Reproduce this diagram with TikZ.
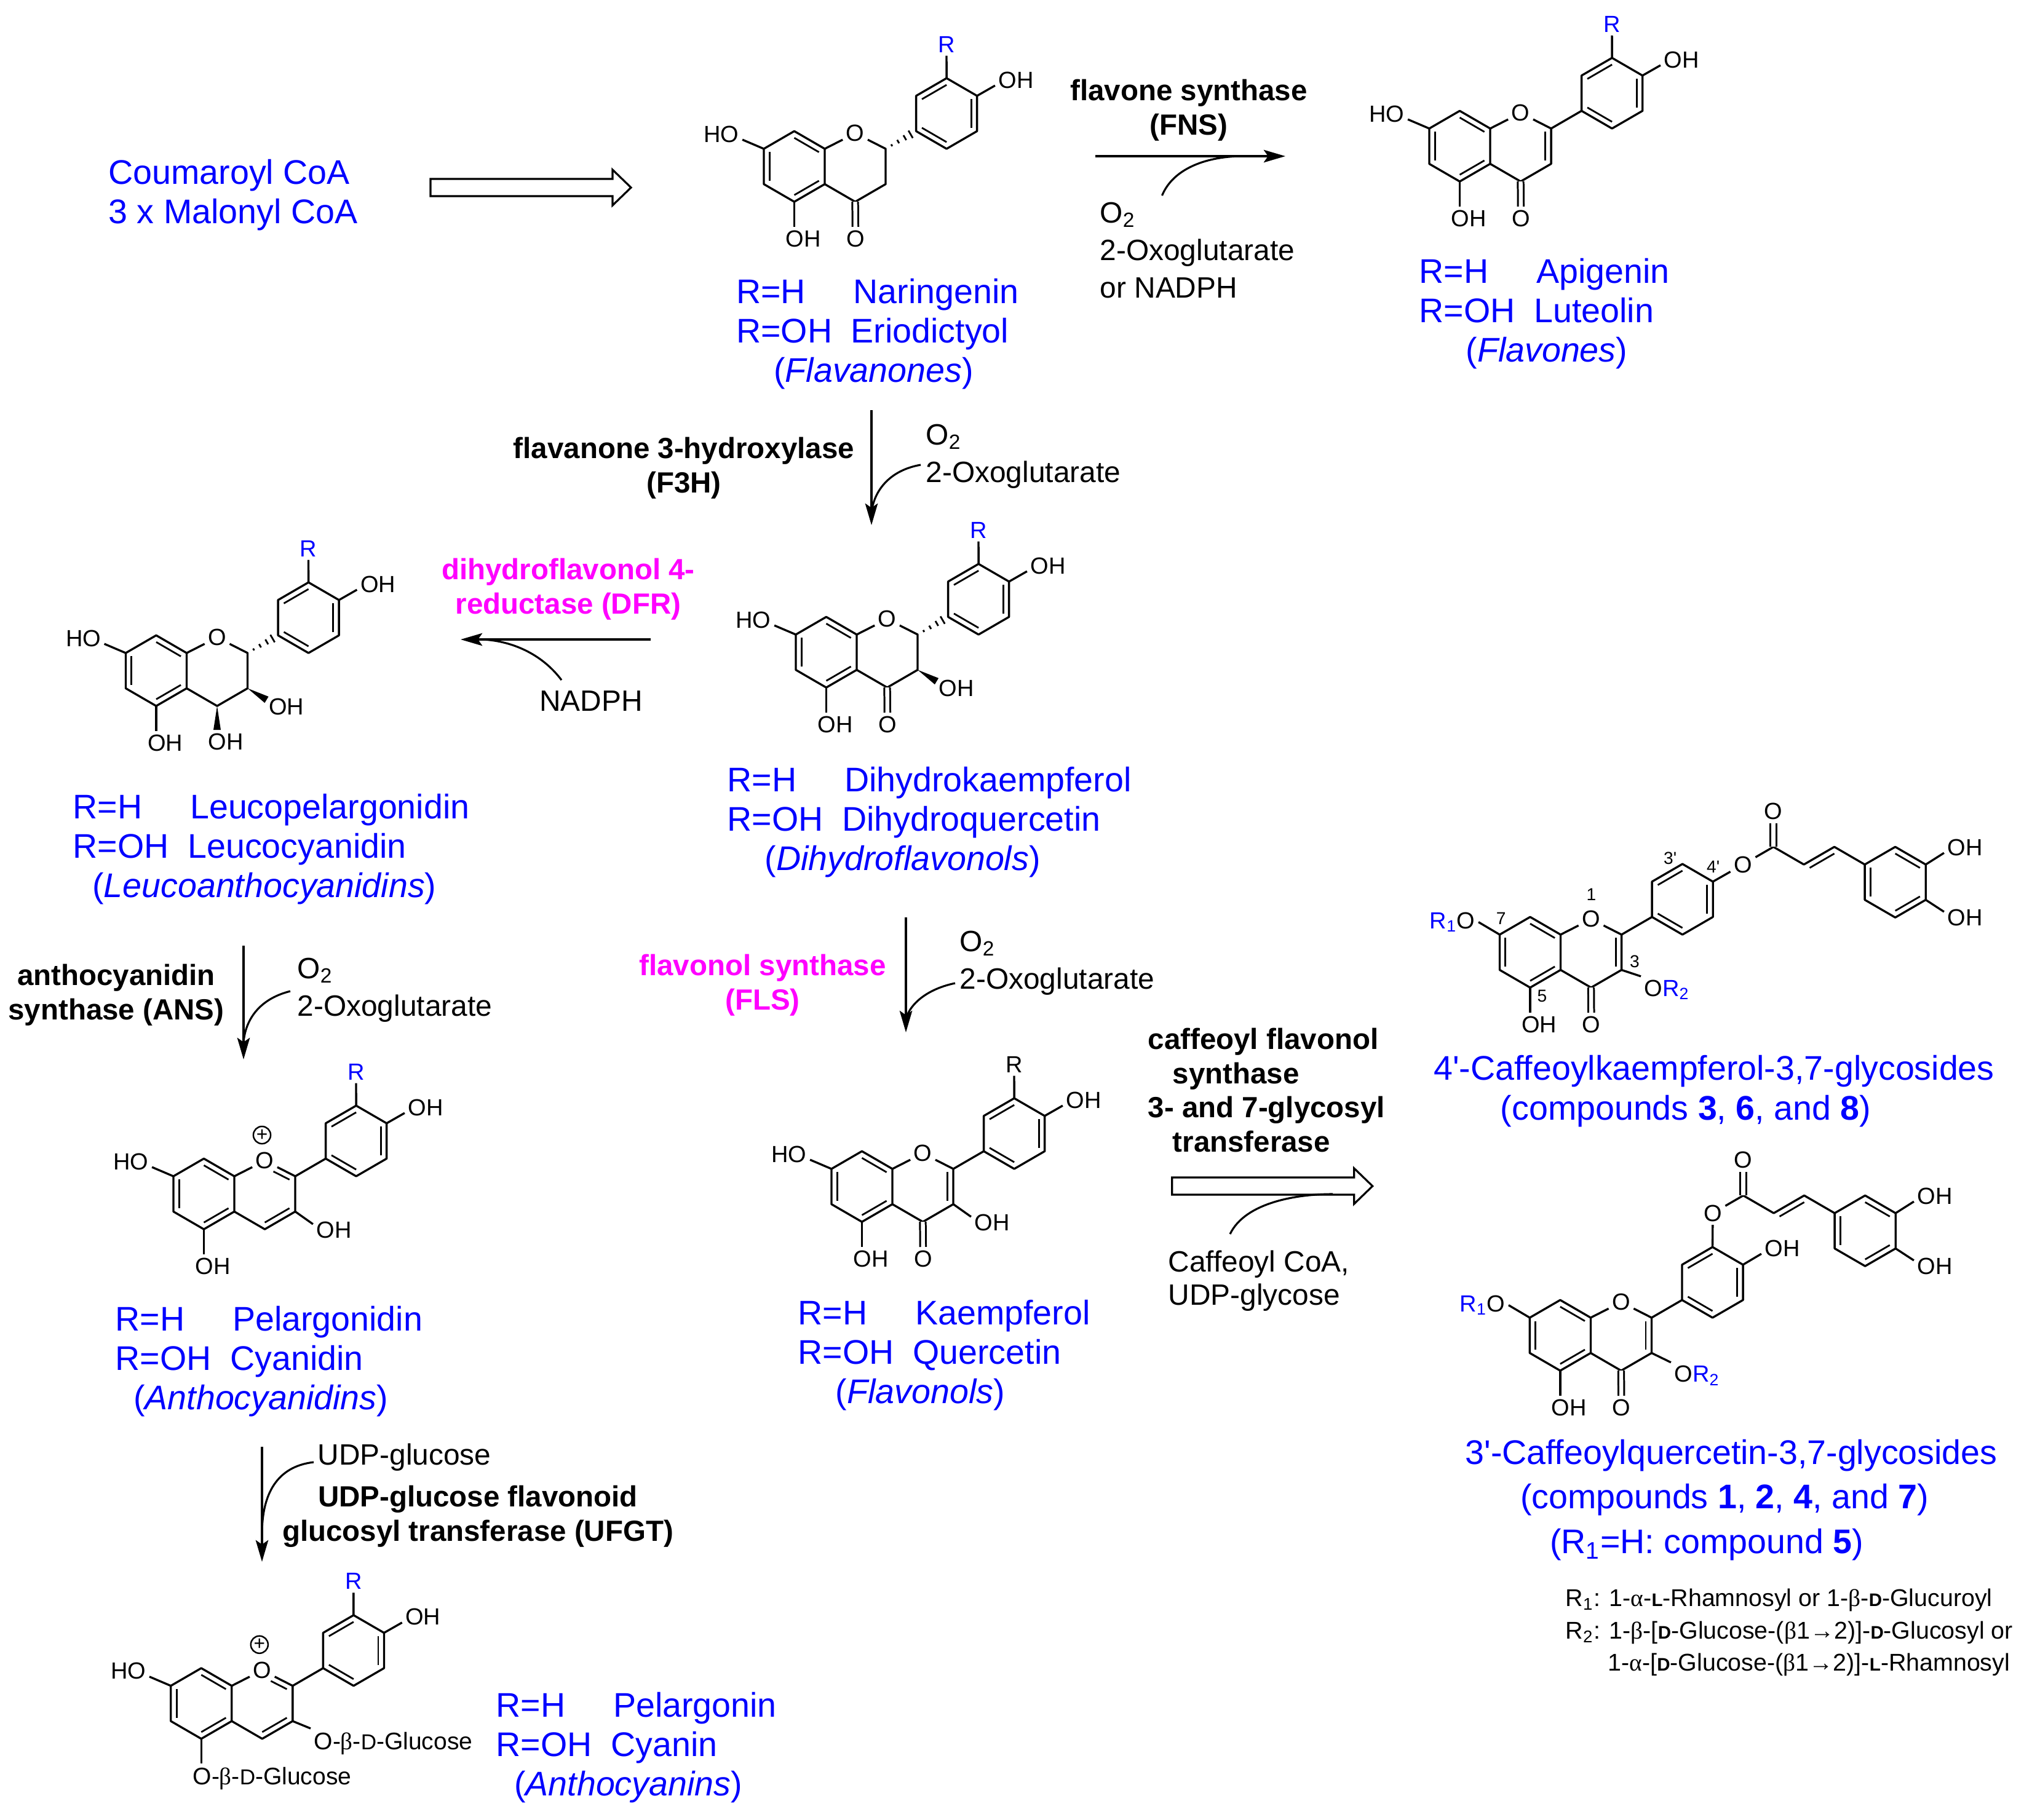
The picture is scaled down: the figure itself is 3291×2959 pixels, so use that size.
\documentclass[tikz,border=0pt]{standalone}
\usepackage{fontspec}
\setmainfont{Liberation Sans}[Ligatures=TeXOff]
\newfontfamily\gkfont{Liberation Serif}
\usetikzlibrary{calc,arrows.meta}
\definecolor{enzpink}{RGB}{255,0,255}
\definecolor{namblue}{RGB}{0,0,255}

\newcommand{\gk}[1]{{\gkfont #1}}
\newcommand{\sm}[1]{{\fontsize{8.4}{9}\selectfont\bfseries #1}}
\newcommand{\smd}[1]{{\fontsize{10}{9}\selectfont #1}}
\newcommand{\rpair}[4]{\makebox[54.2pt][l]{R=H}#1\\\makebox[53.1pt][l]{R=OH}#2\\\hspace*{#4}(\textit{#3})}
\newcommand{\dbl}[3]{\draw[innerbond] ($(#1)!.19!(#3)$) -- ($(#2)!.19!(#3)$);}
\newcommand{\hashbond}[2]{\foreach \t/\l in {.2/.5pt,.41/.9pt,.63/1.3pt,.82/2pt}
    \draw[line width=.8pt] ($(#1)!\t!(#2)!\l!90:(#2)$) -- ($(#1)!\t!(#2)!\l!-90:(#2)$);}
\newcommand{\wedgebond}[2]{\fill (#1) -- ($(#2)!1.7pt!90:(#1)$) -- ($(#2)!1.7pt!-90:(#1)$) -- cycle;}

\newcommand{\coredraw}{
    \begin{scope}[lattice]
    \foreach \n/\i/\j in {c8a/0/0,c4a/0/2,c5/-1/3,c6/-2/2,c7/-2/0,c8/-1/-1,c2/2/0,c3/2/2,c4/1/3,
        a1/3/-1,a2/3/-3,a3/4/-4,a4/5/-3,a5/5/-1,a6/4/0,ca/-1/1,cb/1/1,cc/4/-2}
        \coordinate (-\n) at (\i,\j);
    \node[atom,yshift=-1pt] (-o) at (1,-1) {O};
    \end{scope}
    \draw[bond] (-c7) -- (-c8) -- (-c8a) -- (-c4a) -- (-c5) -- (-c6) -- cycle;
    \draw[bond] (-c8a) -- (-o) -- (-c2) -- (-c3) -- (-c4) -- (-c4a);
    \draw[bond] (-a1) -- (-a2) -- (-a3) -- (-a4) -- (-a5) -- (-a6) -- cycle;
    \dbl{-c7}{-c6}{-ca} \dbl{-c8}{-c8a}{-ca} \dbl{-c4a}{-c5}{-ca}
    \dbl{-a2}{-a3}{-cc} \dbl{-a4}{-a5}{-cc} \dbl{-a6}{-a1}{-cc}
}
\newcommand{\subsdraw}{
    \node[atom] (-ho) at (-168,-24) {HO};
    \node[atom,rtext] (-r) at (198,-170) {R};
    \node[atom] (-oh) at (311,-112) {OH};
    \draw[bond] (-c7) -- (-ho.-15);
    \draw[bond] (-a3) -- (-r);
    \draw[bond] (-a4) -- (-oh.195);
}
\newcommand{\ohfive}{
    \node[atom] (-oh5) at (-35,146) {OH};
    \draw[bond] (-c5) -- (-c5 |- -oh5.north);
}
\newcommand{\oxo}{
    \node[atom] (-oc) at (50,146) {O};
    \draw[dblbond] (-c4) -- (-oc);
}
\newcommand{\cthree}{
    \coordinate (-w3) at (130,76);
    \wedgebond{-c3}{-w3}
    \node[atom] (-oh3) at (162,87) {OH};
}
\newcommand{\cfour}{
    \coordinate (-w4) at (49.5,125);
    \wedgebond{-c4}{-w4}
    \node[atom] (-oh4) at (63.5,144) {OH};
}
\newcommand{\enedraw}{
    \draw[bond] (-c2) -- (-a1);
    \dbl{-c2}{-c3}{-cb}
}
\newcommand{\cationdraw}{
    \draw[bond] (-c2) -- (-a1);
    \draw[innerbond] ($(-o)!.35!(-c2)!.19!(-cb)$) -- ($(-c2)!.19!(-cb)$);
    \dbl{-c3}{-c4}{-cb}
    \node[plusmark] (-plus) at (45,-67) {+};
}

\tikzset{
    bond/.style={line width=.95pt,line join=round},
    innerbond/.style={line width=.8pt},
    dblbond/.style={line width=.85pt,double,double distance=1.8pt},
    lattice/.style={x=.495cm,y=-.287cm},
    atom/.style={font=\fontsize{10.8}{13}\selectfont,inner sep=.6pt,outer sep=1pt},
    glycoside/.style={atom,font=\fontsize{11.1}{13}\selectfont},
    rtext/.style={text=namblue},
    rtwodrop/.style={},
    locant/.style={font=\fontsize{8}{10}\selectfont,inner sep=0pt},
    plusmark/.style={draw,circle,line width=.7pt,inner sep=0pt,minimum size=8pt,font=\fontsize{9}{9}\selectfont},
    compound/.style={text=namblue,inner sep=0pt,align=left,font=\fontsize{15.8}{18.2}\selectfont},
    enzyme/.style={inner sep=0pt,align=center,font=\bfseries\fontsize{13.5}{15.8}\selectfont},
    cofactor/.style={inner sep=0pt,align=left,font=\fontsize{13.6}{17.4}\selectfont},
    rxn/.style={line width=1pt,-{Stealth[length=10pt,width=5.8pt,inset=2pt]}},
    joinline/.style={line width=.9pt},
    pics/flavanone/.style={code={\coredraw\subsdraw\ohfive\oxo\hashbond{-c2}{-a1}}},
    pics/flavone/.style={code={\coredraw\subsdraw\ohfive\oxo\enedraw}},
    pics/dihydroflavonol/.style={code={\coredraw\subsdraw\ohfive\oxo\hashbond{-c2}{-a1}\cthree}},
    pics/leucoanth/.style={code={\coredraw\subsdraw\ohfive\hashbond{-c2}{-a1}\cthree\cfour}},
    pics/flavonol/.style={code={\coredraw\subsdraw\ohfive\oxo\enedraw
        \node[atom] (-oh3) at (162,87) {OH}; \draw[bond] (-c3) -- (-oh3.165);}},
    pics/anthocyanidin/.style={code={\coredraw\subsdraw\ohfive\cationdraw
        \node[atom] (-oh3) at (162,87) {OH}; \draw[bond] (-c3) -- (-oh3.165);}},
    pics/anthocyanin/.style={code={\coredraw\subsdraw\cationdraw}},
    pics/caffcore/.style={code={\coredraw\ohfive\oxo\enedraw
        \node[atom,anchor=base east] (-r1o) at (-133.5,-10) {\textcolor{namblue}{R\textsubscript{1}}O};
        \node[atom,anchor=base west,rtwodrop] (-or2) at (130.5,100) {O\textcolor{namblue}{R\textsubscript{2}}};
        \draw[bond] (-c7) -- (-r1o.east);
        \draw[bond] (-c3) -- (-or2.north west);}},
    pics/caffeate/.style={code={
        \node[atom] (-o) at (0,0) {O};
        \begin{scope}[lattice]
        \foreach \n/\i/\j in {co/1/-1,v1/2/0,v2/3/-1,b1/4/0,b2/4/2,b3/5/3,b4/6/2,b5/6/0,b6/5/-1,cd/5/1,cv/3/1}
            \coordinate (-\n) at (\i,\j);
        \node[atom] (-oc) at (1,-3) {O};
        \end{scope}
        \node[atom] (-oh1) at (361,-28) {OH};
        \node[atom] (-oh2) at (361,86) {OH};
        \draw[bond] (-o) -- (-co) -- (-v1) -- (-v2) -- (-b1);
        \draw[dblbond] (-co) -- (-oc);
        \draw[bond] (-b1) -- (-b2) -- (-b3) -- (-b4) -- (-b5) -- (-b6) -- cycle;
        \dbl{-v1}{-v2}{-cv}
        \dbl{-b1}{-b2}{-cd} \dbl{-b3}{-b4}{-cd} \dbl{-b5}{-b6}{-cd}
        \draw[bond] (-b5) -- (-oh1.195);
        \draw[bond] (-b4) -- (-oh2.165);}},
    pics/hollowarrow/.style={code={
        \draw[line width=.9pt,line join=miter] (0,-14) -- (296,-14) -- (296,-29) -- (326,0) -- (296,29) -- (296,14) -- (0,14) -- cycle;}}
}

\begin{document}
\begin{tikzpicture}[x=.01cm,y=-.01cm]
\useasboundingbox (0,0) rectangle (3291,2959);

% structures
\pic (nar) at (1341,242) {flavanone};
\pic (api) at (2423,209) {flavone};
\pic (dih) at (1393,1032) {dihydroflavonol};
\pic (leu) at (303.5,1062) {leucoanth};
\pic (ant) at (381,1913) {anthocyanidin};
\pic[rtext/.style={text=black}] (kae) at (1451,1901) {flavonol};
\pic (pel) at (376.8,2741.7) {anthocyanin};
\node[glycoside,anchor=west] (pelglcb) at (505,2835) {O-\gk{β}-\smd{D}-Glucose};
\node[glycoside,anchor=west] (pelglca) at (308,2892) {O-\gk{β}-\smd{D}-Glucose};
\draw[bond] (pel-c3) -- (pelglcb.north west);
\draw[bond] (pel-c5) -- (pel-c5 |- pelglca.north);

\pic (kcaf) at (2537.5,1520) {caffcore};
\pic (kcafe) at (2834,1406) {caffeate};
\draw[bond] (kcaf-a4) -- (kcafe-o);
\node[locant] (loc1) at (2587.5,1455) {1};
\node[locant] (loc7) at (2440.6,1494) {7};
\node[locant] (loc3) at (2658,1564) {3};
\node[locant] (loc5) at (2507.5,1620) {5};
\node[locant] (loc3p) at (2715.6,1396) {3'};
\node[locant] (loc4p) at (2785.6,1410) {4'};

\pic[rtwodrop/.style={yshift=-1.4pt}] (qcaf) at (2586.4,2143) {caffcore};
\pic (qcafe) at (2785,1973) {caffeate};
\draw[bond] (qcaf-a3) -- (qcafe-o);
\node[atom] (qcafoh) at (2898,2030) {OH};
\draw[bond] (qcaf-a4) -- (qcafoh.195);

% compound names
\node[compound,anchor=west] (coa) at (176,317) {Coumaroyl CoA\\3 x Malonyl CoA};
\node[compound,anchor=west] (narname) at (1196.5,543) {\rpair{Naringenin}{Eriodictyol}{Flavanones}{17.4pt}};
\node[compound,anchor=west] (apiname) at (2307,510) {\rpair{Apigenin}{Luteolin}{Flavones}{21.6pt}};
\node[compound,anchor=west] (dihname) at (1182,1337) {\rpair{Dihydrokaempferol}{Dihydroquercetin}{Dihydroflavonols}{17.4pt}};
\node[compound,anchor=west] (leuname) at (118,1381) {\rpair{Leucopelargonidin}{Leucocyanidin}{Leucoanthocyanidins}{9pt}};
\node[compound,anchor=west] (antname) at (187,2214) {\rpair{Pelargonidin}{Cyanidin}{Anthocyanidins}{8.4pt}};
\node[compound,anchor=west] (kaename) at (1297,2204) {\rpair{Kaempferol}{Quercetin}{Flavonols}{17.4pt}};
\node[compound,anchor=west] (pelname) at (806,2842) {\rpair{Pelargonin}{Cyanin}{Anthocyanins}{8.4pt}};
\node[compound] (kcafa) at (2787,1742) {4'-Caffeoylkaempferol-3,7-glycosides};
\node[compound] (kcafb) at (2741,1807) {(compounds \textbf{3}, \textbf{6}, and \textbf{8})};
\node[compound] (qcafa) at (2815,2367) {3'-Caffeoylquercetin-3,7-glycosides};
\node[compound] (qcafb) at (2804,2439) {(compounds \textbf{1}, \textbf{2}, \textbf{4}, and \textbf{7})};
\node[compound] (qcafc) at (2775,2512) {(R\textsubscript{1}=H: compound \textbf{5})};
\node[anchor=west,inner sep=0pt,align=left,font=\fontsize{11.2}{15}\selectfont] (rnote) at (2545,2655)
    {R\textsubscript{1}: 1-\gk{α}-\sm{L}-Rhamnosyl or 1-\gk{β}-\sm{D}-Glucuroyl\\
     R\textsubscript{2}: 1-\gk{β}-[\sm{D}-Glucose-(\gk{β}1→2)]-\sm{D}-Glucosyl or\\
     \hspace*{19.6pt}1-\gk{α}-[\sm{D}-Glucose-(\gk{β}1→2)]-\sm{L}-Rhamnosyl};

% enzymes and cofactors
\node[enzyme] (fns) at (1933,179) {flavone synthase\\(FNS)};
\node[cofactor,anchor=west] (fnscof) at (1788,407) {O\textsubscript{2}\\2-Oxoglutarate\\or NADPH};
\node[enzyme] (f3h) at (1112,761) {flavanone 3-hydroxylase\\(F3H)};
\node[cofactor,anchor=west] (f3hcof) at (1505,742) {O\textsubscript{2}\\2-Oxoglutarate};
\node[enzyme,text=enzpink] (dfr) at (924,958) {dihydroflavonol 4-\\reductase (DFR)};
\node[cofactor] (dfrcof) at (961,1140) {NADPH};
\node[enzyme] (ans) at (189,1618) {anthocyanidin\\synthase (ANS)};
\node[cofactor,anchor=west] (anscof) at (483,1610) {O\textsubscript{2}\\2-Oxoglutarate};
\node[enzyme,text=enzpink] (fls) at (1240,1602) {flavonol synthase\\(FLS)};
\node[cofactor,anchor=west] (flscof) at (1560,1566) {O\textsubscript{2}\\2-Oxoglutarate};
\node[enzyme,anchor=west,align=left] (caffenz) at (1866,1773)
    {caffeoyl flavonol\\\hspace*{11.4pt}synthase\\3- and 7-glycosyl\\\hspace*{11.4pt}transferase};
\node[cofactor,anchor=west,font=\fontsize{13.6}{15.4}\selectfont] (caffcof) at (1899,2083) {Caffeoyl CoA,\\UDP-glycose};
\node[cofactor,anchor=west] (udpcof) at (516,2370) {UDP-glucose};
\node[enzyme] (ufgt) at (777,2466) {UDP-glucose flavonoid\\glucosyl transferase (UFGT)};

% arrows
\pic (coaarrow) at (700,305) {hollowarrow};
\pic (caffarrow) at (1905.7,1929) {hollowarrow};
\coordinate (caffin) at (2000,2007);
\coordinate (caffjoin) at (2167,1942);
\draw[joinline] (caffin) .. controls (2025,1955) and (2110,1942) .. (caffjoin);

\coordinate (fnsa) at (1781,254);
\coordinate (fnsb) at (2090,254);
\coordinate (fnsin) at (1889.5,318);
\coordinate (fnsjoin) at (2015,254);
\draw[rxn] (fnsa) -- (fnsb);
\draw[joinline] (fnsin) .. controls (1905,280) and (1950,256) .. (fnsjoin);

\coordinate (f3ha) at (1417,667);
\coordinate (f3hb) at (1417,854);
\coordinate (f3hin) at (1497,756);
\coordinate (f3hjoin) at (1417,835);
\draw[rxn] (f3ha) -- (f3hb);
\draw[joinline] (f3hin) .. controls (1445,765) and (1420,800) .. (f3hjoin);

\coordinate (dfra) at (1058,1040);
\coordinate (dfrb) at (749,1040);
\coordinate (dfrin) at (913,1106);
\coordinate (dfrjoin) at (784,1040);
\draw[rxn] (dfra) -- (dfrb);
\draw[joinline] (dfrin) .. controls (880,1062) and (830,1042) .. (dfrjoin);

\coordinate (ansa) at (396,1538);
\coordinate (ansb) at (396,1723);
\coordinate (ansin) at (472,1612);
\coordinate (ansjoin) at (396,1695);
\draw[rxn] (ansa) -- (ansb);
\draw[joinline] (ansin) .. controls (420,1625) and (399,1660) .. (ansjoin);

\coordinate (flsa) at (1473,1492);
\coordinate (flsb) at (1473,1679);
\coordinate (flsin) at (1553,1599);
\coordinate (flsjoin) at (1473,1660);
\draw[rxn] (flsa) -- (flsb);
\draw[joinline] (flsin) .. controls (1500,1610) and (1475,1640) .. (flsjoin);

\coordinate (udpa) at (426,2353);
\coordinate (udpb) at (426,2540);
\coordinate (udpin) at (510,2378);
\coordinate (udpjoin) at (426,2495);
\draw[rxn] (udpa) -- (udpb);
\draw[joinline] (udpin) .. controls (450,2385) and (426,2430) .. (udpjoin);
\end{tikzpicture}
\end{document}
